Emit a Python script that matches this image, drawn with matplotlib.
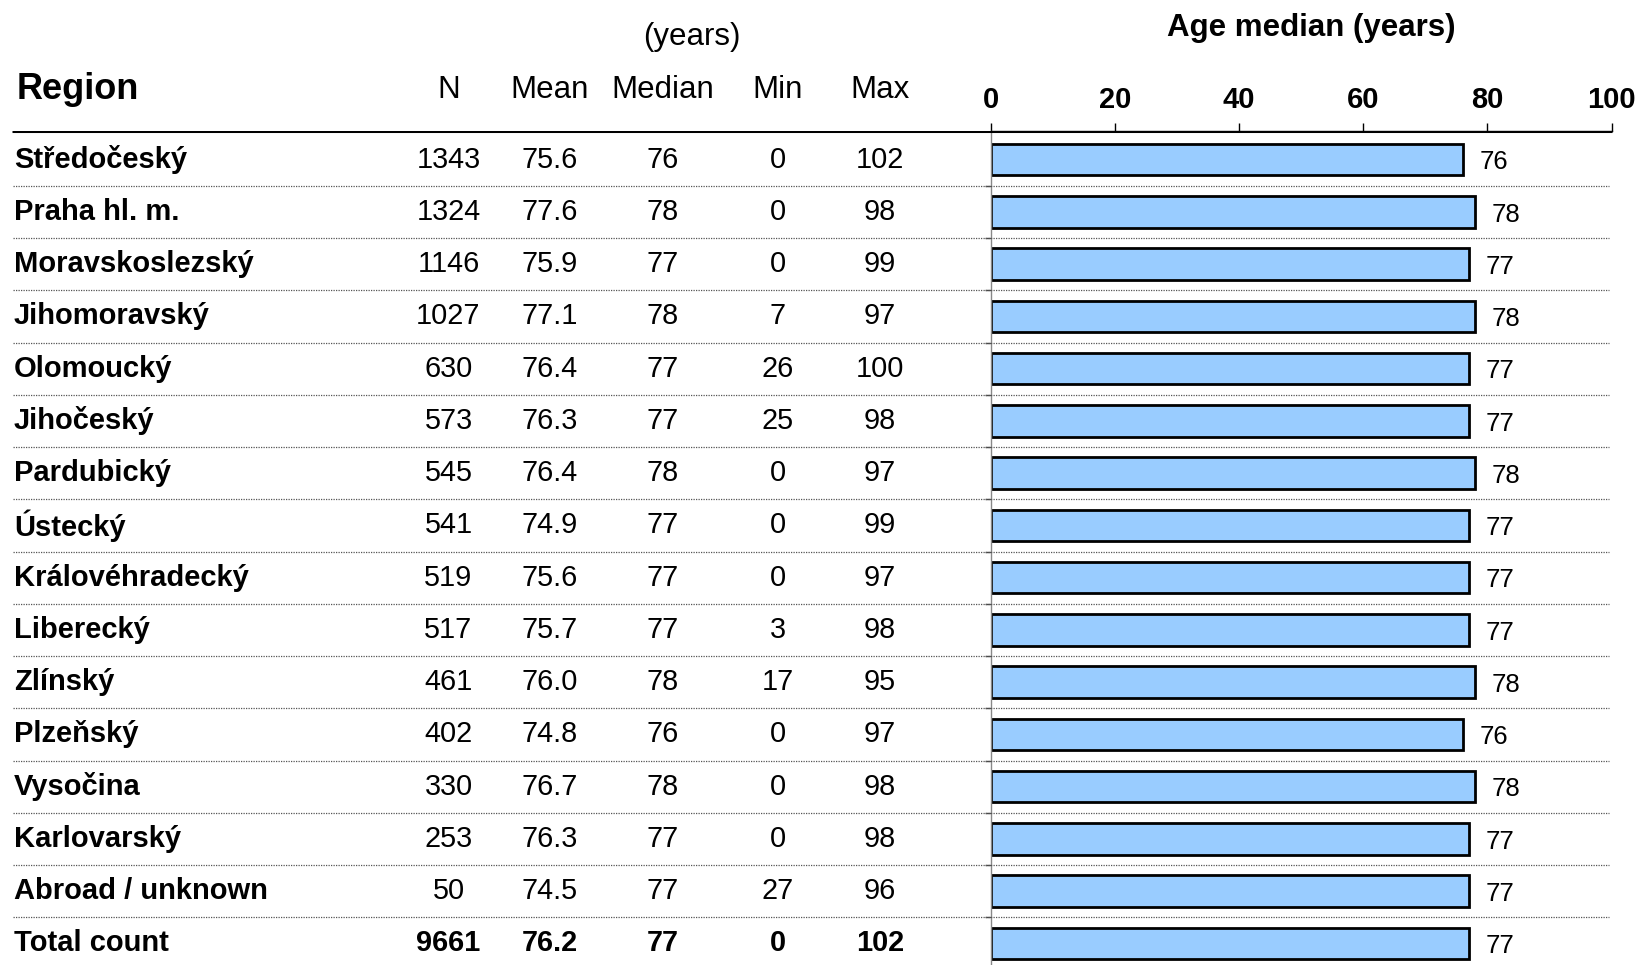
import matplotlib.pyplot as plt

plt.rcParams['font.family'] = ['Liberation Sans', 'DejaVu Sans']

# Tabulka vekovych charakteristik podle kraju
regions = ["Středočeský", "Praha hl. m.", "Moravskoslezský", "Jihomoravský",
           "Olomoucký", "Jihočeský", "Pardubický", "Ústecký",
           "Královéhradecký", "Liberecký", "Zlínský", "Plzeňský",
           "Vysočina", "Karlovarský", "Abroad / unknown", "Total count"]
n = [1343, 1324, 1146, 1027, 630, 573, 545, 541, 519, 517, 461, 402, 330, 253, 50, 9661]
mean = [75.6, 77.6, 75.9, 77.1, 76.4, 76.3, 76.4, 74.9, 75.6, 75.7, 76.0, 74.8, 76.7, 76.3, 74.5, 76.2]
median = [76, 78, 77, 78, 77, 77, 78, 77, 77, 77, 78, 76, 78, 77, 77, 77]
mins = [0, 0, 0, 7, 26, 25, 0, 0, 0, 3, 17, 0, 0, 0, 27, 0]
maxs = [102, 98, 99, 97, 100, 98, 97, 99, 97, 98, 95, 97, 98, 98, 96, 102]
xticks = [0, 20, 40, 60, 80, 100]

W, H = 1643, 965
fig = plt.figure(figsize=(W / 100, H / 100), dpi=100)

# rozlozeni v pixelech
line_y = 131
top, row_h = 133.5, 52.25
nrows = len(regions)
bottom = top + nrows * row_h
x0, x1 = 991, 1611.5
ax_b = [0, 1 - bottom / H, 1, (bottom - line_y) / H]

# graf medianu
ax = fig.add_axes([x0 / W, 1 - bottom / H, (x1 - x0) / W, (bottom - line_y) / H])
y = list(range(nrows))
ax.barh(y, median, height=0.6, color='#99CCFF', edgecolor='black', linewidth=2)
for yi, v in zip(y, median):
    ax.annotate(str(v), (v, yi), xytext=(12, -2), textcoords='offset points',
                va='center', ha='left', fontsize=18.5)
ax.set_xlim(0, 100)
ax.set_ylim(nrows - 0.5, -0.5 - (top - line_y) / row_h)
ax.xaxis.tick_top()
ax.set_xticks(xticks)
ax.tick_params(axis='x', labelsize=21, length=6, width=1, pad=6)
for lab in ax.get_xticklabels():
    lab.set_fontweight('bold')
ax.set_yticks([i + 0.5 for i in range(nrows - 1)])
ax.set_yticklabels([])
ax.tick_params(axis='y', length=4, width=1, color='#444444')
for s in ['right', 'bottom']:
    ax.spines[s].set_visible(False)
ax.spines['left'].set_color('#888888')
ax.spines['left'].set_linewidth(1)
ax.spines['top'].set_linewidth(1)

# tabulka
tb = fig.add_axes(ax_b)
tb.set_xlim(0, W)
tb.set_ylim(nrows - 0.5, -0.5 - (top - line_y) / row_h)
tb.axis('off')
tb.patch.set_alpha(0)

ly = -0.5 - (top - line_y) / row_h
tb.plot([12, x1], [ly, ly], color='black', lw=2.2, solid_capstyle='butt')
for i in range(nrows - 1):
    tb.plot([12.5, 1609], [i + 0.5, i + 0.5], color='#555555', lw=0.9,
            linestyle=(0, (1, 1)))

cols = [448.5, 550, 663, 777.5, 880]
for i in range(nrows):
    fw = 'bold' if i == nrows - 1 else 'normal'
    tb.text(14, i, regions[i], fontsize=21, fontweight='bold', va='center', ha='left')
    vals = [str(n[i]), f"{mean[i]:.1f}", str(median[i]), str(mins[i]), str(maxs[i])]
    for cx, v in zip(cols, vals):
        tb.text(cx, i, v, fontsize=20.8, fontweight=fw, va='center', ha='center')

# hlavicky
fig.text(16.5 / W, 1 - 89 / H, "Region", fontsize=26, fontweight='bold', va='center', ha='left')
for cx, h in zip(cols, ["N", "Mean", "Median", "Min", "Max"]):
    fig.text(cx / W, 1 - 90 / H, h, fontsize=22.5, va='center', ha='center')
fig.text(691.5 / W, 1 - 36.5 / H, "(years)", fontsize=22.5, va='center', ha='center')
fig.text(1311 / W, 1 - 28 / H, "Age median (years)", fontsize=22.5, fontweight='bold',
         va='center', ha='center')

fig.savefig("out.png", dpi=100)
